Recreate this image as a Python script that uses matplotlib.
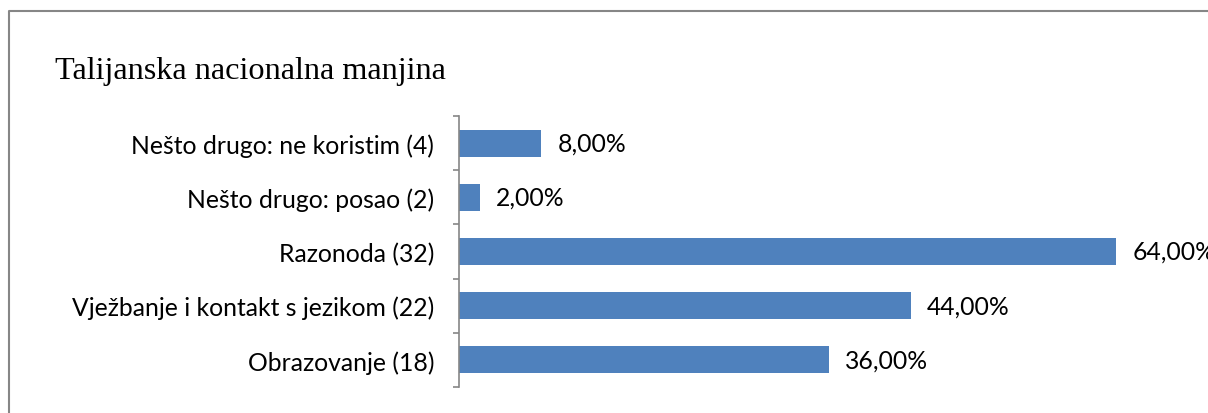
import matplotlib.pyplot as plt
from matplotlib.lines import Line2D
import numpy as np

categories = ['Obrazovanje (18)', 'Vježbanje i kontakt s jezikom (22)', 'Razonoda (32)',
              'Nešto drugo: posao (2)', 'Nešto drugo: ne koristim (4)']
values = [36.0, 44.0, 64.0, 2.0, 8.0]
value_labels = ['36,00%', '44,00%', '64,00%', '2,00%', '8,00%']

bar_color = '#4F81BD'
axis_color = '#868686'

fig = plt.figure(figsize=(12.08, 4.14), dpi=100)

# outer chart border: only the left and top edges are inside the picture
bx, by = 8.5 / 1208, 1 - 11.5 / 414
fig.lines.append(Line2D([bx, bx, 1.01], [-0.01, by, by], transform=fig.transFigure,
                        color=axis_color, linewidth=1.5))

fig.text(55 / 1208, 1 - 72 / 414, 'Talijanska nacionalna manjina', family='Liberation Serif',
         fontsize=23.2, va='center', ha='left')

ax = fig.add_axes([459 / 1208, 1 - 388 / 414, (1116 - 459) / 1208, (388 - 117) / 414])
y = np.arange(len(categories))
ax.barh(y, values, height=0.5, color=bar_color)

for yi, v, lab in zip(y, values, value_labels):
    ax.text(v + 1.6, yi, lab, va='center', ha='left', family='Lato', fontsize=17.8,
            clip_on=False)

ax.set_xlim(0, 64)
ax.set_ylim(-0.5, len(categories) - 0.5)
ax.set_xticks([])
ax.set_yticks(np.arange(-0.5, len(categories), 1.0))
ax.set_yticklabels([])
ax.set_yticks(y, minor=True)
ax.set_yticklabels(categories, minor=True, family='Lato', fontsize=17.8)
ax.tick_params(axis='y', which='major', length=4.5, width=1.2, color=axis_color, direction='out')
ax.tick_params(axis='y', which='minor', length=0, pad=18)
for s in ['top', 'right', 'bottom']:
    ax.spines[s].set_visible(False)
ax.spines['left'].set_color(axis_color)
ax.spines['left'].set_linewidth(1.2)
ax.patch.set_alpha(0)

plt.savefig('out.png', dpi=100)
